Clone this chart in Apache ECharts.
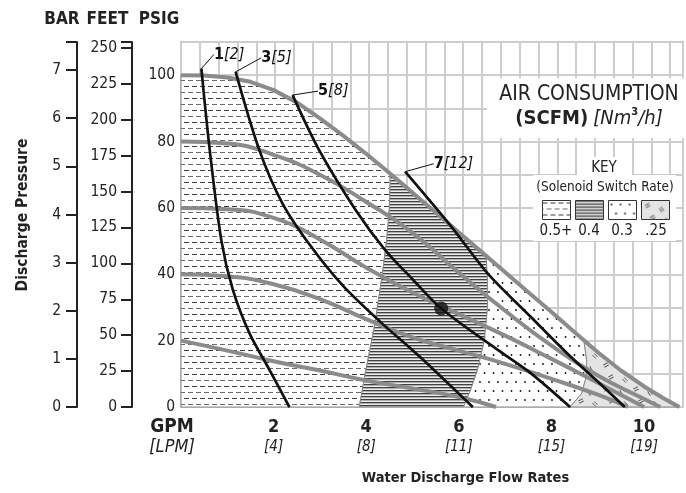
<!DOCTYPE html>
<html>
<head>
<meta charset="utf-8">
<script src="https://cdn.jsdelivr.net/npm/echarts@6.0.0/dist/echarts.min.js"></script>
<style>html,body{margin:0;padding:0;background:#fff}#c{width:686px;height:493px}</style>
</head>
<body>
<div id="c"></div>
<script>
// ---------- data ----------
const gpmTicks = [0, 2, 4, 6, 8, 10];
const gpmLabels = ['GPM', '2', '4', '6', '8', '10'];
const lpmLabels = ['[LPM]', '[4]', '[8]', '[11]', '[15]', '[19]'];
const psigTicks = [0, 20, 40, 60, 80, 100];
const feetTicks = [0, 25, 50, 75, 100, 125, 150, 175, 200, 225, 250];
const barTicks = [0, 1, 2, 3, 4, 5, 6, 7];

// discharge-pressure curves [GPM, PSIG]
const psig100 = [[0,100],[0.5,99.9],[1,99.3],[1.5,98],[2,95.5],[2.5,91.8],[3,87],[3.5,81.8],[4,76.3],[4.5,70.5],[5,64.6],[5.5,58.6],[6,52.6],[6.5,46.6],[7,40.6],[7.5,34.6],[8,28.6],[8.5,22.5],[9,16.5],[9.5,11],[10,6.2],[10.4,2.8],[10.76,0]];
const psig80 = [[0,80],[1,79.4],[2,76],[3,70],[4,61.8],[5,52.5],[6,40.5],[7,29],[8,18.5],[9,9.5],[10,2.4],[10.35,0]];
const psig60 = [[0,60],[1,59.6],[2,57],[3,50.5],[4,42],[5,34.5],[6,28],[7,21.5],[8,14.5],[9,7.3],[10,0]];
const psig40 = [[0,40],[1,39.4],[2,37],[3,32.5],[4,26.5],[5,21],[6,17],[7,13],[8,8.5],[9,3.7],[9.65,0]];
const psig20 = [[0,20],[1,17],[2,13.8],[3,11],[4,8],[5,5.6],[6,3],[6.8,0]];

// air consumption curves [GPM, PSIG]
const scfm1 = [[0.44,102],[0.62,77.5],[0.87,50.3],[1.12,35.3],[1.48,22.2],[1.91,11.2],[2.34,0]];
const scfm3 = [[1.18,101],[1.69,77.5],[2.19,61.4],[2.8,48.5],[3.5,36.5],[4.34,25.2],[4.91,18.2],[5.4,12],[6.3,0]];
const scfm5 = [[2.41,94],[2.98,77.5],[3.77,59.4],[4.41,47.3],[5.0,38.5],[5.62,29.7],[6.84,17.2],[7.55,10.2],[8.4,0]];
const scfm7 = [[4.84,70.9],[5.84,54.3],[6.62,40.3],[7.55,27.2],[8.41,15.2],[9.12,6.1],[9.58,0]];
const scfmNames = ['1', '3', '5', '7'];
const nm3Names = ['[2]', '[5]', '[8]', '[12]'];

// solenoid switch-rate zone boundaries (top point lies on the 100 psig curve)
const zoneBoundA = [[4.52,70.3],[4.5,60],[4.44,50],[4.34,39.3],[4.19,25.2],[3.98,10.2],[3.85,0]];
const zoneBoundB = [[6.59,45.5],[6.62,38],[6.62,30],[6.55,20],[6.4,11],[6.25,5],[6.1,0]];
const zoneBoundC = [[8.7,20.1],[8.76,14],[8.75,9],[8.65,4],[8.4,0]];
const zoneNames = ['0.5+', '0.4', '0.3', '.25'];

// operating point
const opPoint = [[5.62, 29.7]];

// ---------- helpers ----------
const PSI_TO_FT = 2.31, PSI_PER_BAR = 14.5038;
const FONT = "'DejaVu Sans Condensed','Liberation Sans Narrow','Arial Narrow',sans-serif";
const near = (a, b) => Math.abs(a - b) < 1e-6;

function mkPattern(w, h, draw) {
  const c = document.createElement('canvas');
  c.width = w; c.height = h;
  draw(c.getContext('2d'));
  return { image: c, repeat: 'repeat' };
}
const patDash = mkPattern(16, 12, g => {
  g.fillStyle = '#fff'; g.fillRect(0, 0, 16, 12);
  g.fillStyle = '#3a3a3a'; g.fillRect(0, 2, 5, 1); g.fillRect(8, 2, 5, 1);
  g.fillStyle = '#6a6a6a'; g.fillRect(4, 8, 5, 1); g.fillRect(12, 8, 4, 1); g.fillRect(0, 8, 1, 1);
});
const patLines = mkPattern(4, 3, g => {
  g.fillStyle = '#404040'; g.fillRect(0, 0, 4, 1);
  g.fillStyle = '#b0b0b0'; g.fillRect(0, 1, 4, 1);
  g.fillStyle = '#ececec'; g.fillRect(0, 2, 4, 1);
});
const patDots = mkPattern(18, 18, g => {
  g.fillStyle = '#fff'; g.fillRect(0, 0, 18, 18);
  g.fillStyle = '#111';
  [[3,4],[12,4],[7.5,13],[16.5,13]].forEach(p => { g.beginPath(); g.arc(p[0], p[1], 0.9, 0, Math.PI * 2); g.fill(); });
});
const patScribble = mkPattern(30, 24, g => {
  g.fillStyle = '#e4e4e4'; g.fillRect(0, 0, 30, 24);
  g.strokeStyle = '#555'; g.lineWidth = 0.9;
  [[6,5,-0.5],[20,9,1.0],[11,17,-0.5],[25,20,0.8]].forEach(m => {
    g.save(); g.translate(m[0], m[1]); g.rotate(m[2]);
    g.beginPath(); g.moveTo(-2.5,-1.2); g.lineTo(2.5,-1.2); g.moveTo(-2.5,1.2); g.lineTo(2.5,1.2); g.stroke();
    g.restore();
  });
});
const zonePatterns = [patDash, patLines, patDots, patScribble];

// piece of the 100 psig curve strictly between x1 and x2
function outerBetween(x1, x2) { return psig100.filter(p => p[0] > x1 && p[0] < x2); }
const endOuter = psig100[psig100.length - 1];
const rev = a => a.slice().reverse();
const zonePolys = [
  [[0,0]].concat(psig100.filter(p => p[0] < zoneBoundA[0][0]), zoneBoundA),
  [].concat(zoneBoundA.slice(0,1), outerBetween(zoneBoundA[0][0], zoneBoundB[0][0]), zoneBoundB, rev(zoneBoundA).slice(0, -1)),
  [].concat(zoneBoundB.slice(0,1), outerBetween(zoneBoundB[0][0], zoneBoundC[0][0]), zoneBoundC, rev(zoneBoundB).slice(0, -1)),
  [].concat(zoneBoundC.slice(0,1), outerBetween(zoneBoundC[0][0], endOuter[0] + 1), rev(zoneBoundC).slice(0, -1))
];

const zoneSeries = zoneNames.map((name, i) => ({
  name: name,
  type: 'custom',
  coordinateSystem: 'cartesian2d',
  z: 1,
  silent: true,
  itemStyle: { color: zonePatterns[i] },
  data: [[0, 0]],
  renderItem: (params, api) => ({
    type: 'polygon',
    shape: { points: zonePolys[i].map(p => api.coord(p)) },
    style: { fill: zonePatterns[i], stroke: '#8a8a8a', lineWidth: 1 }
  })
}));

const grayCurves = [['100 psig', psig100], ['80 psig', psig80], ['60 psig', psig60], ['40 psig', psig40], ['20 psig', psig20]];
const graySeries = grayCurves.map(c => ({
  name: c[0], type: 'line', z: 3, data: c[1], showSymbol: false, silent: true,
  smooth: c[1] === psig100 ? false : 0.5,
  lineStyle: { color: '#8b8b8b', width: 4 }
}));

const labelShift = [[7, -14], [20, -14], [20, -4], [23, -8]];
const blackCurves = [scfm1, scfm3, scfm5, scfm7];
const blackSeries = blackCurves.map((c, i) => ({
  name: scfmNames[i] + nm3Names[i], type: 'line', z: 4, silent: true,
  smooth: 0.3,
  symbol: 'circle', symbolSize: 1, showAllSymbol: true,
  itemStyle: { color: '#111' },
  lineStyle: { color: '#111', width: 2.7 },
  data: c.map((p, j) => j === 0 ? { value: p, label: { show: true } } : { value: p }),
  label: {
    show: false, position: 'right', distance: 5,
    formatter: '{n|' + scfmNames[i] + '}{m|' + nm3Names[i] + '}',
    rich: {
      n: { fontFamily: FONT, fontWeight: 'bold', fontSize: 16, color: '#111' },
      m: { fontFamily: FONT, fontStyle: 'italic', fontSize: 16, color: '#111' }
    }
  },
  labelLine: { show: true, lineStyle: { color: '#111', width: 1 } },
  labelLayout: { dx: labelShift[i][0], dy: labelShift[i][1] }
}));

const txt = '#222';
const option = {
  animation: false,
  textStyle: { fontFamily: FONT },
  title: {
    left: 577, top: 77, textAlign: 'center',
    backgroundColor: '#fff', padding: [6, 30, 9, 12],
    text: '{a|AIR CONSUMPTION}\n{b|(SCFM)} {c|[Nm}{s|3}{c|/h]}',
    textStyle: {
      fontWeight: 'normal',
      rich: {
        a: { fontFamily: FONT, fontSize: 21, fontWeight: 'normal', color: '#222', lineHeight: 24 },
        b: { fontFamily: FONT, fontSize: 20, fontWeight: 'bold', color: '#222', lineHeight: 24 },
        c: { fontFamily: FONT, fontSize: 20, fontWeight: 'normal', fontStyle: 'italic', color: '#222', lineHeight: 24 },
        s: { fontFamily: FONT, fontSize: 11, fontWeight: 'bold', color: '#222', lineHeight: 24, verticalAlign: 'top', padding: [0, 0, 10, 0] }
      }
    }
  },
  legend: {
    data: zoneNames, left: 533, top: 175, orient: 'horizontal',
    backgroundColor: '#fff', padding: [25, 6, 21, 9],
    icon: 'rect', itemWidth: 28, itemHeight: 19, itemGap: 4,
    itemStyle: { borderColor: '#333', borderWidth: 1 },
    formatter: () => '', selectedMode: false
  },
  grid: { left: 181, right: 0, top: 42, bottom: 86, show: true, borderColor: '#cdcdcd', borderWidth: 2, backgroundColor: '#fff' },
  xAxis: [
    {
      type: 'value', min: 0, max: 10.84, interval: 2, position: 'bottom',
      axisLine: { show: false }, axisTick: { show: false }, splitLine: { show: false },
      axisLabel: {
        margin: 10, color: txt,
        formatter: v => {
          const i = gpmTicks.findIndex(t => near(t, v));
          if (i < 0) return '';
          if (i === 0) return '{g|' + gpmLabels[0] + '}\n{l|' + lpmLabels[0] + '}';
          return '{n|' + gpmLabels[i] + '}\n{i|' + lpmLabels[i] + '}';
        },
        rich: {
          g: { fontFamily: FONT, fontSize: 19, fontWeight: 'bold', color: txt, lineHeight: 20, padding: [0, 18, 0, 0] },
          l: { fontFamily: FONT, fontSize: 18, fontStyle: 'italic', color: txt, lineHeight: 20, padding: [0, 18, 0, 0] },
          n: { fontFamily: FONT, fontSize: 18, fontWeight: 'bold', color: txt, lineHeight: 20 },
          i: { fontFamily: FONT, fontSize: 15, fontStyle: 'italic', color: txt, lineHeight: 20 }
        }
      },
      name: 'Water Discharge Flow Rates', nameLocation: 'middle', nameGap: 64,
      nameTextStyle: { fontFamily: FONT, fontSize: 14.5, fontWeight: 'bold', color: txt, padding: [0, 0, 0, 67] }
    },
    {
      type: 'value', min: 0, max: 26.68, interval: 1, position: 'top',
      axisLine: { show: false }, axisTick: { show: false }, axisLabel: { show: false },
      splitLine: { show: true, lineStyle: { color: '#cdcdcd', width: 2 } }
    }
  ],
  yAxis: [
    {
      type: 'value', min: 0, max: 110, interval: 10, position: 'left',
      axisLine: { show: false }, axisTick: { show: false },
      splitLine: { show: true, lineStyle: { color: '#cdcdcd', width: 2 } },
      axisLabel: { margin: 6, fontSize: 15.5, color: txt, formatter: v => psigTicks.some(t => near(t, v)) ? String(v) : '' }
    },
    {
      type: 'value', min: 0, max: 110 * PSI_TO_FT, interval: 25, position: 'left', offset: 49,
      axisLine: { show: true, onZero: false, lineStyle: { color: '#222', width: 2 } },
      axisTick: { show: true, length: 11, lineStyle: { color: '#222', width: 2 } },
      splitLine: { show: false },
      axisLabel: { margin: 15, fontSize: 15.5, color: txt, formatter: v => feetTicks.some(t => near(t, v)) ? String(v) : '' }
    },
    {
      type: 'value', min: 0, max: 110 / PSI_PER_BAR, interval: 1, position: 'left', offset: 104,
      axisLine: { show: true, onZero: false, lineStyle: { color: '#222', width: 2 } },
      axisTick: { show: true, length: 11, lineStyle: { color: '#222', width: 2 } },
      splitLine: { show: false },
      axisLabel: { margin: 16, fontSize: 15.5, color: txt, formatter: v => barTicks.some(t => near(t, v)) ? String(v) : '' },
      name: 'Discharge Pressure', nameLocation: 'middle', nameRotate: 90, nameGap: 46,
      nameTextStyle: { fontFamily: FONT, fontSize: 15.5, fontWeight: 'bold', color: txt, padding: [0, 0, 0, 19] }
    }
  ],
  graphic: [
    { type: 'text', x: 62, y: 20, z: 100, style: { text: 'BAR', font: 'bold 17px ' + FONT, fill: txt, align: 'center', verticalAlign: 'middle' } },
    { type: 'text', x: 107.5, y: 20, z: 100, style: { text: 'FEET', font: 'bold 17px ' + FONT, fill: txt, align: 'center', verticalAlign: 'middle' } },
    { type: 'text', x: 159, y: 20, z: 100, style: { text: 'PSIG', font: 'bold 17px ' + FONT, fill: txt, align: 'center', verticalAlign: 'middle' } },
    { type: 'rect', left: 577, top: 157, z: 99, shape: { width: 55, height: 20 }, style: { fill: '#fff' } },
    { type: 'text', x: 604, y: 168, z: 100, style: { text: 'KEY', font: '15px ' + FONT, fill: txt, align: 'center', verticalAlign: 'middle' } },
    { type: 'text', x: 605, y: 187, z: 100, style: { text: '(Solenoid Switch Rate)', font: '13.5px ' + FONT, fill: txt, align: 'center', verticalAlign: 'middle' } },
    { type: 'text', x: 556, y: 231, z: 100, style: { text: zoneNames[0], font: '15px ' + FONT, fill: txt, align: 'center', verticalAlign: 'middle' } },
    { type: 'text', x: 589, y: 231, z: 100, style: { text: zoneNames[1], font: '15px ' + FONT, fill: txt, align: 'center', verticalAlign: 'middle' } },
    { type: 'text', x: 622, y: 231, z: 100, style: { text: zoneNames[2], font: '15px ' + FONT, fill: txt, align: 'center', verticalAlign: 'middle' } },
    { type: 'text', x: 656, y: 231, z: 100, style: { text: zoneNames[3], font: '15px ' + FONT, fill: txt, align: 'center', verticalAlign: 'middle' } }
  ],
  series: [].concat(zoneSeries, graySeries, blackSeries, [{
    name: 'operating point', type: 'scatter', z: 5, silent: true, data: opPoint,
    symbol: 'circle', symbolSize: 14, itemStyle: { color: '#111' }
  }])
};

const chart = echarts.init(document.getElementById('c'), null, { renderer: 'canvas' });
chart.setOption(option);
</script>
</body>
</html>
